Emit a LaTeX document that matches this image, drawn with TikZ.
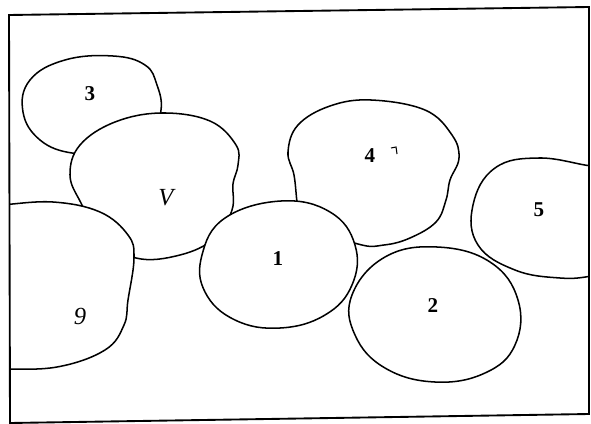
\documentclass[tikz,border=0pt]{standalone}
\usepackage{fontspec}
\setmainfont{Liberation Serif}
\begin{document}
\begin{tikzpicture}[x=0.03cm,y=-0.03cm,
  blob/.style={draw=black,fill=white,line width=1.3pt},
  lbl/.style={font=\bfseries\fontsize{18}{20}\selectfont},
  hand/.style={font=\itshape\fontsize{21}{23}\selectfont}]
\useasboundingbox (0,0) rectangle (591,424);
\begin{scope}
\clip (9,15) -- (589,7) -- (589,414) -- (10,423) -- cycle;
% blob 3
\draw[blob] plot[smooth cycle,tension=0.7] coordinates {(72,153) (40,140) (23,112) (30,80) (65,60) (113,56) (145,65) (157,85) (161,110) (150,132) (105,150)};
% blob V
\draw[blob] plot[smooth cycle,tension=0.65] coordinates {(162,113) (210,121) (236,145) (238,165) (233,184) (232,210) (215,238) (180,255) (136,258) (100,235) (81,203) (70,175) (80,145) (115,122)};
% blob 6
\draw[blob] plot[smooth cycle,tension=0.65] coordinates {(53,202) (100,212) (128,235) (134,258) (128,300) (124,325) (105,350) (57,367) (0,369) (-20,368) (-20,205) (0,205)};
% blob 4
\draw[blob] plot[smooth cycle,tension=0.65] coordinates {(371,100) (425,110) (452,135) (459,158) (450,180) (446,200) (436,222) (410,238) (384,245) (358,244) (300,222) (297,202) (294,175) (288,152) (298,125) (330,106)};
% blob 1
\draw[blob] plot[smooth cycle,tension=0.7] coordinates {(281,201) (330,212) (355,245) (352,285) (325,315) (280,328) (235,320) (205,292) (202,255) (225,218)};
% blob 2
\draw[blob] plot[smooth cycle,tension=0.7] coordinates {(437,247) (490,262) (518,300) (515,345) (485,373) (435,382) (385,368) (355,335) (352,295) (385,257)};
% blob 5
\draw[blob] plot[smooth cycle,tension=0.7] coordinates {(539,158) (495,168) (473,205) (478,245) (515,270) (560,278) (592,276) (615,270) (615,165) (592,166)};
\end{scope}
\draw[line width=1.6pt] (9,15) -- (589,7) -- (589,414) -- (10,423) -- cycle;
\node[lbl] (n3) at (90,94) {3};
\node[hand] (nV) at (166,198) {V};
\node[hand] (n6) at (80,316) {9};
\node[lbl] (n4) at (370,156) {4};
\draw[line width=0.9pt] (391,148) -- (396,147) -- (397,154);
\node[lbl] (n1) at (278,259) {1};
\node[lbl] (n2) at (433,306) {2};
\node[lbl] (n5) at (539,210) {5};
\end{tikzpicture}
\end{document}
